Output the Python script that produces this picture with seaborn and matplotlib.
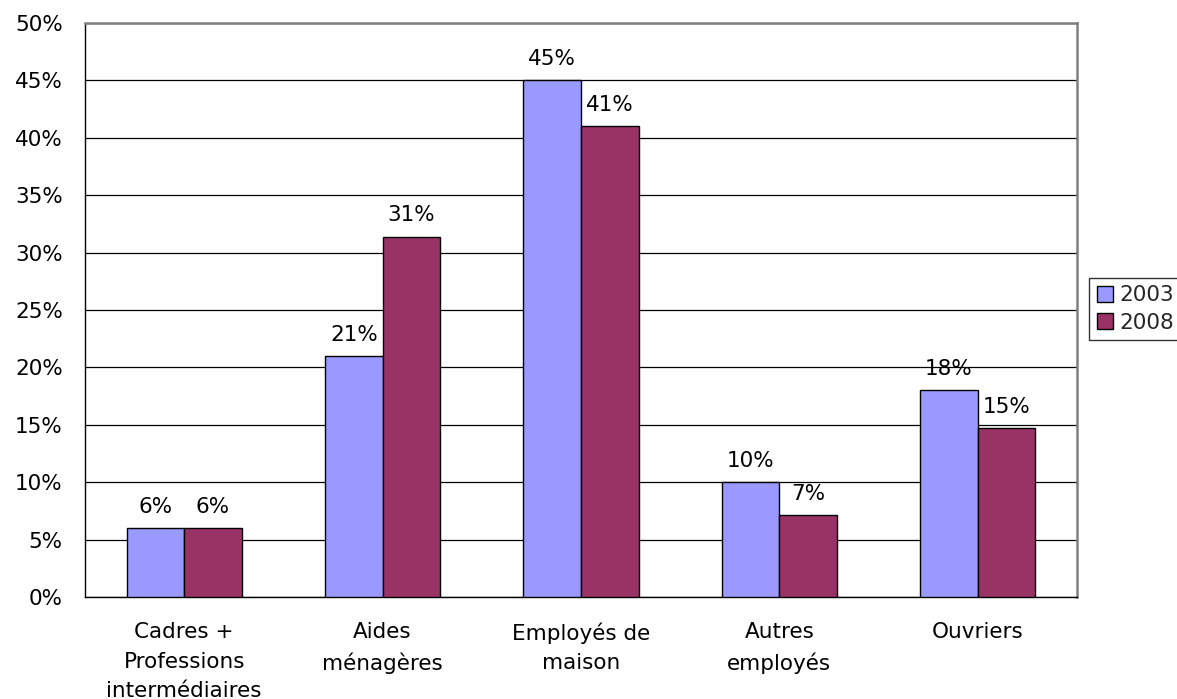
import pandas as pd
import matplotlib.pyplot as plt
import seaborn as sns
import numpy as np
from matplotlib.patches import Patch
from matplotlib.ticker import FixedLocator, PercentFormatter

categories = ["Cadres +\nProfessions\nintermédiaires", "Aides\nménagères",
              "Employés de\nmaison", "Autres\nemployés", "Ouvriers"]
years = ["2003", "2008"]
values_2003 = [6.0, 21.0, 45.0, 10.0, 18.0]
values_2008 = [6.0, 31.4, 41.0, 7.1, 14.7]
colors = {"2003": "#9999FF", "2008": "#993366"}

df = pd.DataFrame({
    "categorie": categories * 2,
    "annee": ["2003"] * len(categories) + ["2008"] * len(categories),
    "valeur": values_2003 + values_2008,
})

sns.set_theme(style="white")
plt.rcParams["font.family"] = ["DejaVu Sans"]
FS = 15.5

fig = plt.figure(figsize=(11.77, 6.99), dpi=100)
ax = fig.add_axes([85 / 1177, 1 - 597 / 699, (1077 - 85) / 1177, (597 - 23) / 699])

sns.barplot(data=df, x="categorie", y="valeur", hue="annee", hue_order=years,
            palette=colors, width=0.58, gap=0, edgecolor="black", linewidth=1,
            saturation=1, legend=False, ax=ax)
for b in ax.patches:
    b.set_zorder(3)

# labels above bars
for cont, vals in zip(ax.containers, [values_2003, values_2008]):
    labels = [f"{round(v):.0f}%" for v in vals]
    ax.bar_label(cont, labels=labels, padding=8, fontsize=FS, color="black")

ax.set_ylim(0, 50)
ax.set_xlim(-0.5, 4.5)
ax.yaxis.set_major_locator(FixedLocator(np.arange(0, 51, 5)))
ax.yaxis.set_major_formatter(PercentFormatter(decimals=0))
ax.grid(axis="y", color="black", linewidth=0.9, zorder=0)
ax.set_axisbelow(True)

ax.xaxis.set_minor_locator(FixedLocator(np.arange(-0.5, 5, 1)))
ax.tick_params(axis="x", which="major", length=0, pad=18, labelsize=FS)
ax.tick_params(axis="x", which="minor", length=7, width=1, color="black", direction="out")
ax.tick_params(axis="y", length=7, width=1, color="black", direction="out", labelsize=FS, pad=9)
ax.tick_params(axis="both", colors="black", which="both")
for t in ax.get_xticklabels():
    t.set_linespacing(1.6)

for s in ["top", "right"]:
    ax.spines[s].set_color("#808080")
    ax.spines[s].set_linewidth(1.8)
for s in ["left", "bottom"]:
    ax.spines[s].set_color("black")
    ax.spines[s].set_linewidth(1)

ax.set_xlabel("")
ax.set_ylabel("")

handles = [Patch(facecolor=colors[y], edgecolor="black", label=y) for y in years]
leg = fig.legend(handles=handles, loc="center left", bbox_to_anchor=(1089 / 1177, 1 - 309 / 699),
                 frameon=True, fontsize=FS, handlelength=0.75, handleheight=0.75,
                 handletextpad=0.3, borderpad=0.35, labelspacing=0.35, fancybox=False,
                 borderaxespad=0)
leg.get_frame().set_edgecolor("black")
leg.get_frame().set_linewidth(1)

fig.savefig("out.png", dpi=100)
